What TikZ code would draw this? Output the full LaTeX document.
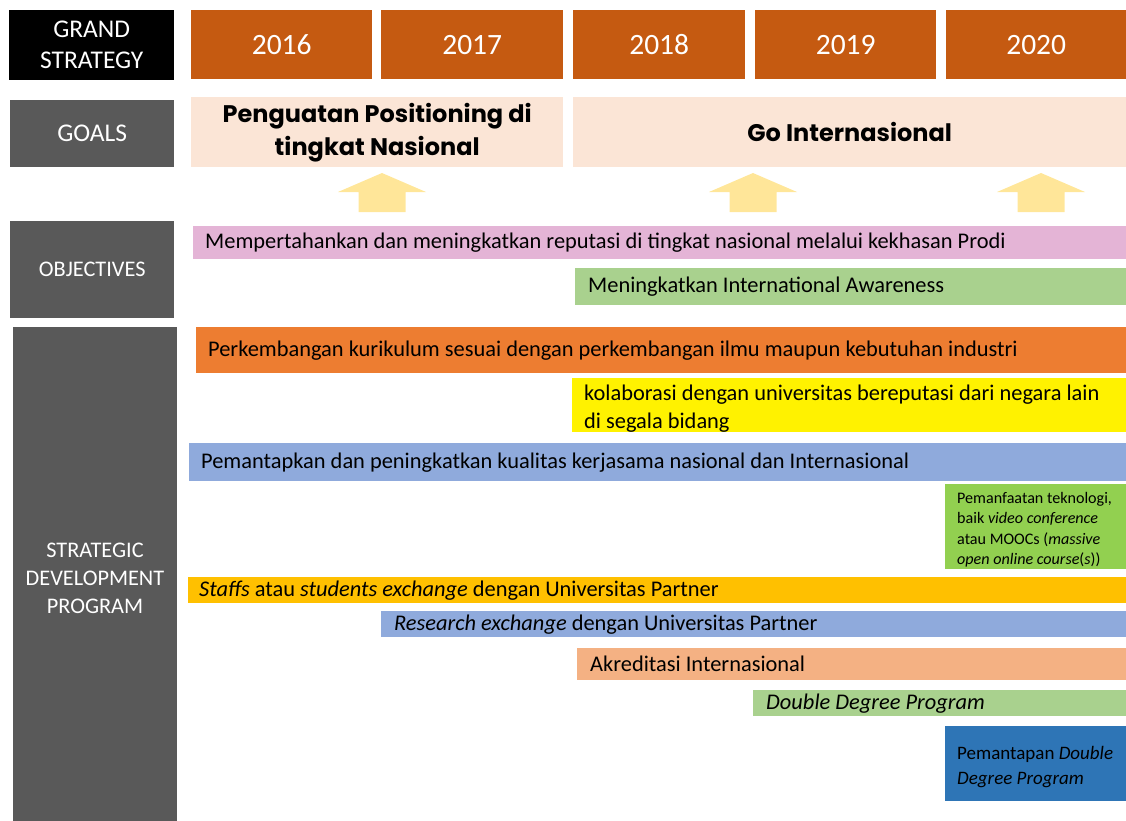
\documentclass[tikz,border=0pt]{standalone}
\usepackage{fontspec}
\setmainfont{Carlito}
\newfontfamily\goalfont{Poppins}
\definecolor{hdrorange}{HTML}{C55A11}
\definecolor{hdrgray}{HTML}{595959}
\definecolor{goalfill}{HTML}{FBE5D6}
\definecolor{arrowfill}{HTML}{FFE699}
\definecolor{pinkbar}{HTML}{E4B4D6}
\definecolor{greenbar}{HTML}{A9D18E}
\definecolor{orangebar}{HTML}{ED7D31}
\definecolor{bluebar}{HTML}{8FAADC}
\definecolor{limebar}{HTML}{92D050}
\definecolor{goldbar}{HTML}{FFC000}
\definecolor{peachbar}{HTML}{F4B183}
\definecolor{deepblue}{HTML}{2E75B6}
\begin{document}
\begin{tikzpicture}[x=1pt,y=-1pt,
  box/.style={rectangle, draw=none, inner sep=0pt, anchor=north west},
  hdr/.style={text=white, font=\fontsize{25.5}{31}\selectfont, align=center},
  year/.style={text=white, font=\fontsize{29.5}{32}\selectfont},
  goaltxt/.style={text=black, font=\goalfont\bfseries\fontsize{24}{33}\selectfont, align=center},
  bartxt/.style={anchor=west, inner sep=0pt, text=black, font=\fontsize{22.4}{28}\selectfont, align=left},
  smalltxt/.style={anchor=north west, inner sep=0pt, text=black, font=\fontsize{16.1}{20.5}\selectfont, align=left},
  uparrow/.style={fill=arrowfill, draw=none}
]
\useasboundingbox (0,0) rectangle (1126,821);
% header row
\node[box, fill=black, minimum width=165, minimum height=70] (gs) at (9,10) {};
\node[hdr] (gst) at (gs.center) {GRAND\\STRATEGY};
\node[box, fill=hdrorange, minimum width=181, minimum height=69] (y16) at (191,10) {};
\node[box, fill=hdrorange, minimum width=182, minimum height=69] (y17) at (381,10) {};
\node[box, fill=hdrorange, minimum width=172, minimum height=69] (y18) at (573,10) {};
\node[box, fill=hdrorange, minimum width=181, minimum height=69] (y19) at (755,10) {};
\node[box, fill=hdrorange, minimum width=180, minimum height=69] (y20) at (946,10) {};
\node[year] (t16) at (y16.center) {2016};
\node[year] (t17) at (y17.center) {2017};
\node[year] (t18) at (y18.center) {2018};
\node[year] (t19) at (y19.center) {2019};
\node[year] (t20) at (y20.center) {2020};
% goals row
\node[box, fill=hdrgray, minimum width=164, minimum height=67] (goals) at (10,100) {};
\node[hdr] (goalst) at (goals.center) {GOALS};
\node[box, fill=goalfill, minimum width=372, minimum height=70] (g1) at (191,97) {};
\node[box, fill=goalfill, minimum width=553, minimum height=70] (g2) at (573,97) {};
\node[goaltxt] (g1t) at (g1.center) {Penguatan Positioning di\\tingkat Nasional};
\node[goaltxt] (g2t) at (g2.center) {Go Internasional};
% arrows
\foreach \cx/\nm in {382/a1,753/a2,1041/a3}{
  \fill[uparrow] (\cx,173) -- (\cx+44,192) -- (\cx+23.5,192) -- (\cx+23.5,212) -- (\cx-23.5,212) -- (\cx-23.5,192) -- (\cx-44,192) -- cycle;
}
% objectives
\node[box, fill=hdrgray, minimum width=164, minimum height=97] (obj) at (10,221) {};
\node[hdr, font=\fontsize{22.3}{26}\selectfont] (objt) at (obj.center) {OBJECTIVES};
\node[box, fill=pinkbar, minimum width=933, minimum height=33] (o1) at (193,226) {};
\node[bartxt] (o1t) at ([xshift=12]o1.west) {Mempertahankan dan meningkatkan reputasi di tingkat nasional melalui kekhasan Prodi};
\node[box, fill=greenbar, minimum width=551, minimum height=37] (o2) at (575,268) {};
\node[bartxt] (o2t) at ([xshift=13]o2.west) {Meningkatkan International Awareness};
% strategic development program
\node[box, fill=hdrgray, minimum width=164, minimum height=494] (sdp) at (13,327) {};
\node[hdr, font=\fontsize{22.3}{28}\selectfont] (sdpt) at (95,578) {STRATEGIC\\DEVELOPMENT\\PROGRAM};
\node[box, fill=orangebar, minimum width=930, minimum height=46] (p1) at (196,327) {};
\node[bartxt] (p1t) at ([xshift=12]p1.west) {Perkembangan kurikulum sesuai dengan perkembangan ilmu maupun kebutuhan industri};
\node[box, fill=yellow, minimum width=554, minimum height=54] (p2) at (572,378) {};
\node[bartxt] (p2t) at ([xshift=12,yshift=-3]p2.west) {kolaborasi dengan universitas bereputasi dari negara lain\\di segala bidang};
\node[box, fill=bluebar, minimum width=937, minimum height=38] (p3) at (189,443) {};
\node[bartxt] (p3t) at ([xshift=12]p3.west) {Pemantapkan dan peningkatkan kualitas kerjasama nasional dan Internasional};
\node[box, fill=limebar, minimum width=181, minimum height=85] (p4) at (945,484) {};
\node[smalltxt] (p4t) at ([xshift=12,yshift=-8]p4.north west) {Pemanfaatan teknologi,\\baik \textit{video conference}\\atau MOOCs (\textit{massive}\\\textit{open online course}(\textit{s}))};
\node[box, fill=goldbar, minimum width=938, minimum height=26] (p5) at (188,577) {};
\node[bartxt] (p5t) at ([xshift=11]p5.west) {\textit{Staffs} atau \textit{students exchange} dengan Universitas Partner};
\node[box, fill=bluebar, minimum width=745, minimum height=26] (p6) at (381,611) {};
\node[bartxt] (p6t) at ([xshift=13]p6.west) {\textit{Research exchange} dengan Universitas Partner};
\node[box, fill=peachbar, minimum width=549, minimum height=32] (p7) at (577,648) {};
\node[bartxt] (p7t) at ([xshift=13]p7.west) {Akreditasi Internasional};
\node[box, fill=greenbar, minimum width=373, minimum height=26] (p8) at (753,690) {};
\node[bartxt] (p8t) at ([xshift=13]p8.west) {\textit{Double Degree Program}};
\node[box, fill=deepblue, minimum width=181, minimum height=75] (p9) at (945,726) {};
\node[smalltxt, font=\fontsize{19}{25}\selectfont] (p9t) at ([xshift=12,yshift=-20]p9.north west) {Pemantapan \textit{Double}\\\textit{Degree Program}};
\end{tikzpicture}
\end{document}
